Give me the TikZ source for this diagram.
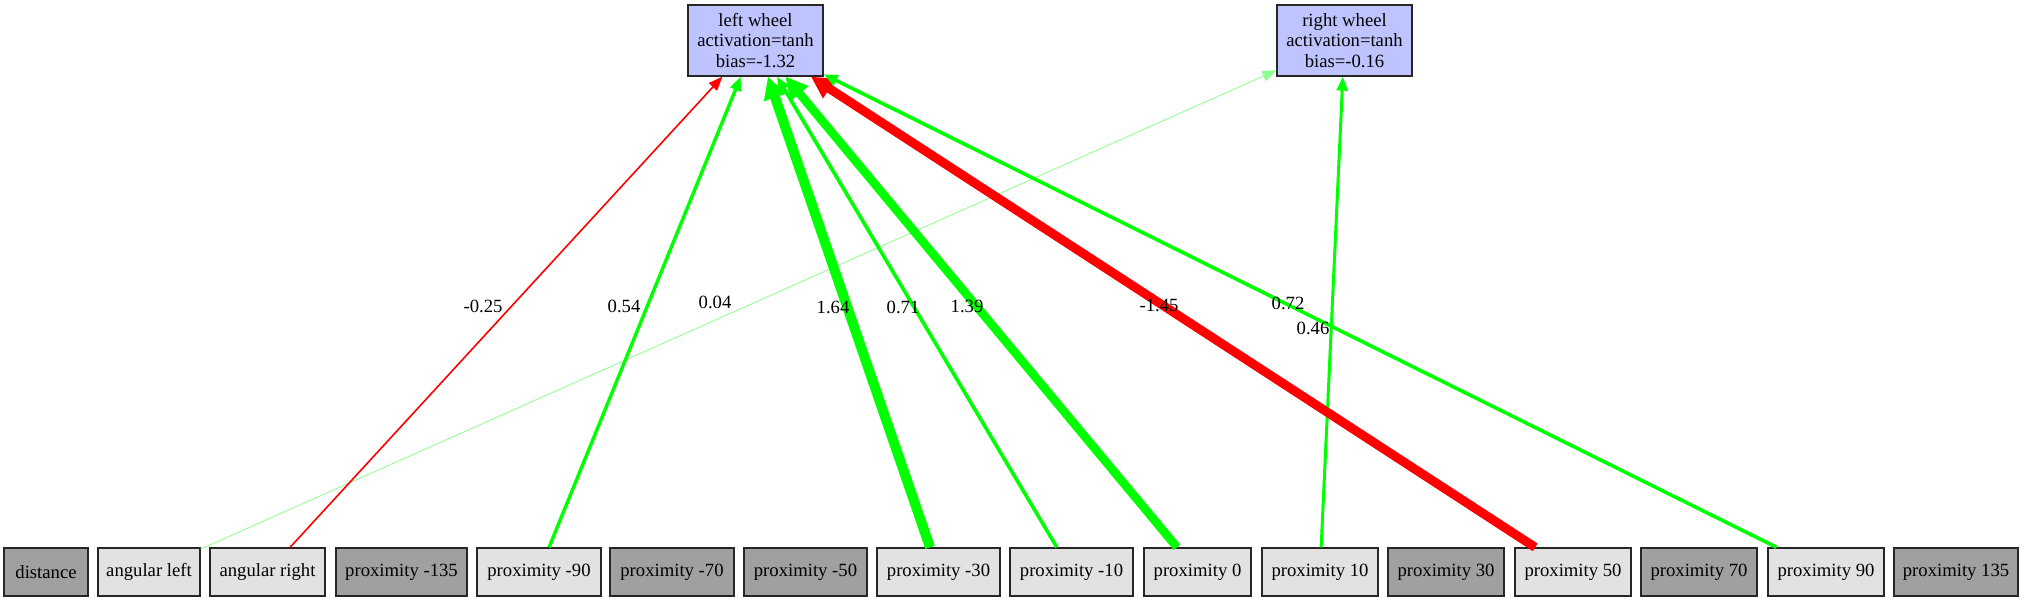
\documentclass[tikz,border=0pt]{standalone}
\usepackage{fontspec}
\setmainfont{Liberation Serif}
\usetikzlibrary{arrows.meta}
\definecolor{darkbox}{RGB}{160,160,160}
\definecolor{lightbox}{RGB}{226,226,226}
\definecolor{outbox}{RGB}{190,196,255}
\definecolor{posw}{RGB}{0,255,0}
\definecolor{negw}{RGB}{255,0,0}
\definecolor{faintw}{RGB}{140,255,140}
\begin{document}
\begin{tikzpicture}[x=1pt,y=1pt,
  box/.style={draw=black!85, line width=1.3pt, rectangle, inner sep=0pt,
    minimum height=48pt, font=\fontsize{18.67}{20.5}\selectfont},
  inbox/.style={box, fill=lightbox},
  offbox/.style={box, fill=darkbox},
  outnode/.style={box, fill=outbox, minimum width=135pt, minimum height=71pt, align=center},
  wlabel/.style={font=\fontsize{18.67}{20.5}\selectfont, inner sep=0pt},
  smalltip/.style={-{Triangle[length=14pt,width=11pt]}},
  bigtip/.style={-{Triangle[length=22pt,width=22pt]}},
  conn/.style={line width=#1}
]
\useasboundingbox (0,0) rectangle (2025,601);
% output nodes
\node[outnode] (lw) at (755.5,560.5) {left wheel\\activation=tanh\\bias=-1.32};
\node[outnode] (rw) at (1344.5,560.5) {right wheel\\activation=tanh\\bias=-0.16};
% input nodes
\node[offbox, minimum width=84pt]  (dist)  at (46,29)     {distance};
\node[inbox,  minimum width=102pt] (al)    at (149,29)    {angular left};
\node[inbox,  minimum width=115pt] (ar)    at (267.5,29)  {angular right};
\node[offbox, minimum width=131pt] (pm135) at (401.5,29)  {proximity -135};
\node[inbox,  minimum width=124pt] (pm90)  at (539,29)    {proximity -90};
\node[offbox, minimum width=124pt] (pm70)  at (672,29)    {proximity -70};
\node[offbox, minimum width=123pt] (pm50)  at (805.5,29)  {proximity -50};
\node[inbox,  minimum width=123pt] (pm30)  at (938.5,29)  {proximity -30};
\node[inbox,  minimum width=123pt] (pm10)  at (1071.5,29) {proximity -10};
\node[inbox,  minimum width=107pt] (p0)    at (1197.5,29) {proximity 0};
\node[inbox,  minimum width=116pt] (p10)   at (1320,29)   {proximity 10};
\node[offbox, minimum width=116pt] (p30)   at (1446,29)   {proximity 30};
\node[inbox,  minimum width=116pt] (p50)   at (1573,29)   {proximity 50};
\node[offbox, minimum width=116pt] (p70)   at (1699,29)   {proximity 70};
\node[inbox,  minimum width=116pt] (p90)   at (1826,29)   {proximity 90};
\node[offbox, minimum width=124pt] (p135)  at (1956,29)   {proximity 135};
% connections
\draw[conn=0.8pt, faintw, smalltip] (al) -- (rw);
\draw[conn=1.6pt, negw, smalltip] (ar) -- (lw);
\draw[conn=3.4pt, posw, smalltip] (pm90) -- (lw);
\draw[conn=10pt, posw, bigtip] (pm30) -- (lw);
\draw[conn=3.6pt, posw, smalltip] (pm10) -- (lw);
\draw[conn=8.6pt, posw, bigtip] (p0) -- (lw);
\draw[conn=3pt, posw, smalltip] (p10) -- (rw);
\draw[conn=9pt, negw, bigtip] (p50) -- (lw);
\draw[conn=3.6pt, posw, smalltip] (p90) -- (lw);
% weight labels
\node[wlabel] (l1) at (483,295)  {-0.25};
\node[wlabel] (l2) at (624,295)  {0.54};
\node[wlabel] (l3) at (715,299)  {0.04};
\node[wlabel] (l4) at (833,294)  {1.64};
\node[wlabel] (l5) at (903,294)  {0.71};
\node[wlabel] (l6) at (967,295)  {1.39};
\node[wlabel] (l7) at (1159,296) {-1.45};
\node[wlabel] (l8) at (1288,298) {0.72};
\node[wlabel] (l9) at (1313,273) {0.46};
\end{tikzpicture}
\end{document}
